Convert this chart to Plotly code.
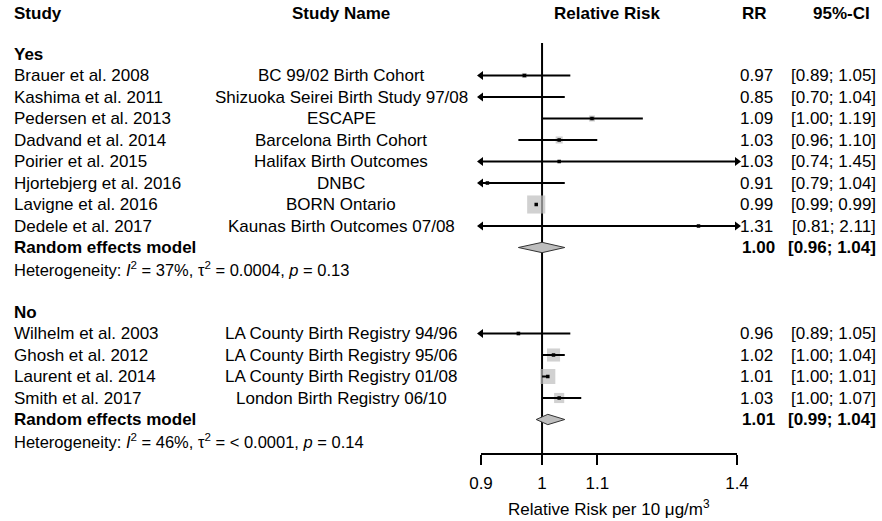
import math
import plotly.graph_objects as go

# ---------------- data ----------------
groups = ["Yes", "No"]
study = ["Brauer et al. 2008", "Kashima et al. 2011", "Pedersen et al. 2013", "Dadvand et al. 2014",
         "Poirier et al. 2015", "Hjortebjerg et al. 2016", "Lavigne et al. 2016", "Dedele et al. 2017",
         "Wilhelm et al. 2003", "Ghosh et al. 2012", "Laurent et al. 2014", "Smith et al. 2017"]
study_name = ["BC 99/02 Birth Cohort", "Shizuoka Seirei Birth Study 97/08", "ESCAPE", "Barcelona Birth Cohort",
              "Halifax Birth Outcomes", "DNBC", "BORN Ontario", "Kaunas Birth Outcomes 07/08",
              "LA County Birth Registry 94/96", "LA County Birth Registry 95/06",
              "LA County Birth Registry 01/08", "London Birth Registry 06/10"]
study_group = ["Yes"] * 8 + ["No"] * 4
rr = [0.97, 0.85, 1.09, 1.03, 1.03, 0.91, 0.99, 1.31, 0.96, 1.02, 1.01, 1.03]
ci_lo = [0.89, 0.70, 1.00, 0.96, 0.74, 0.79, 0.99, 0.81, 0.89, 1.00, 1.00, 1.00]
ci_hi = [1.05, 1.04, 1.19, 1.10, 1.45, 1.04, 0.99, 2.11, 1.05, 1.04, 1.01, 1.07]
weight = [3.5, 0.6, 5.0, 6.8, 1.2, 1.2, 45.0, 0.6, 2.2, 23.5, 31.0, 14.0]

re_rr = [1.00, 1.01]
re_lo = [0.96, 0.99]
re_hi = [1.04, 1.04]
het_i2 = ["37%", "46%"]
het_tau2 = ["0.0004", "< 0.0001"]
het_p = ["0.13", "0.14"]

tick_vals = [0.9, 1, 1.1, 1.4]
tick_text = ["0.9", "1", "1.1", "1.4"]
x_title = "Relative Risk per 10 μg/m<sup>3</sup>"

# ---------------- layout constants ----------------
W, H = 882, 521
FONT = "Liberation Sans, Arial, sans-serif"
FS = 17
FS_HET = 16.5
XMIN, XMAX = 0.9, 1.4
X_L, X_R = 481, 737          # pixel extent of the forest axis
ROW_PX = 21.5
ROW3_PX = 75.5
AXIS_PX = 453
TXT_OFF = 0.0


def row_of_px(p):
    return 3 + (p - ROW3_PX) / ROW_PX


def px(x):
    return x / W


# assign rows
rows_study = []
rows_group = {}
rows_re = {}
rows_het = {}
r = 2
for g in groups:
    rows_group[g] = r
    r += 1
    for i, sg in enumerate(study_group):
        if sg == g:
            rows_study.append(r)
            r += 1
    rows_re[g] = r
    rows_het[g] = r + 1
    r += 3

fig = go.Figure()

# reference line at RR = 1
fig.add_trace(go.Scatter(x=[1, 1], y=[row_of_px(43), row_of_px(AXIS_PX)], mode="lines",
                         line=dict(color="black", width=2), hoverinfo="skip", showlegend=False))

# squares (weights)
sq_x, sq_y, sq_s = [], [], []
for i in range(len(study)):
    if XMIN <= rr[i] <= XMAX:
        sq_x.append(rr[i]); sq_y.append(rows_study[i]); sq_s.append(2.7 * math.sqrt(weight[i]))
fig.add_trace(go.Scatter(x=sq_x, y=sq_y, mode="markers",
                         marker=dict(symbol="square", size=sq_s, color="#BEBEBE", line=dict(width=0)),
                         hoverinfo="skip", showlegend=False, cliponaxis=False))

# CI lines
lx, ly = [], []
al_x, al_y, ar_x, ar_y = [], [], [], []
for i in range(len(study)):
    a = max(ci_lo[i], XMIN)
    b = min(ci_hi[i], XMAX)
    lx += [a, b, None]; ly += [rows_study[i]] * 2 + [None]
    if ci_lo[i] < XMIN:
        al_x.append(XMIN); al_y.append(rows_study[i])
    if ci_hi[i] > XMAX:
        ar_x.append(XMAX); ar_y.append(rows_study[i])
fig.add_trace(go.Scatter(x=lx, y=ly, mode="lines", line=dict(color="black", width=2),
                         hoverinfo="skip", showlegend=False, cliponaxis=False))
fig.add_trace(go.Scatter(x=al_x, y=al_y, mode="markers",
                         marker=dict(symbol="triangle-left", size=8, color="black"),
                         hoverinfo="skip", showlegend=False, cliponaxis=False))
fig.add_trace(go.Scatter(x=ar_x, y=ar_y, mode="markers",
                         marker=dict(symbol="triangle-right", size=8, color="black"),
                         hoverinfo="skip", showlegend=False, cliponaxis=False))

# point estimates
px_, py_ = [], []
for i in range(len(study)):
    if XMIN <= rr[i] <= XMAX:
        px_.append(rr[i]); py_.append(rows_study[i])
fig.add_trace(go.Scatter(x=px_, y=py_, mode="markers",
                         marker=dict(symbol="square", size=3.5, color="black"),
                         hoverinfo="skip", showlegend=False, cliponaxis=False))

# diamonds
DH = 0.24
for k, g in enumerate(groups):
    y0 = rows_re[g]
    fig.add_trace(go.Scatter(x=[re_lo[k], re_rr[k], re_hi[k], re_rr[k], re_lo[k]],
                             y=[y0, y0 - DH, y0, y0 + DH, y0], mode="lines", fill="toself",
                             fillcolor="#BEBEBE", line=dict(color="#333333", width=1),
                             hoverinfo="skip", showlegend=False))

# ---------------- text ----------------
ann = []


def txt(x, y, s, anchor="left", bold=False, size=FS):
    if bold:
        s = "<b>" + s + "</b>"
    ann.append(dict(x=px(x), xref="paper", y=y + TXT_OFF, yref="y", text=s, showarrow=False,
                    xanchor=anchor, yanchor="middle", borderpad=0,
                    font=dict(family=FONT, size=size, color="black")))


hdr = row_of_px(13.5)
txt(13, hdr, "Study", bold=True)
txt(341, hdr, "Study Name", anchor="center", bold=True)
txt(607, hdr, "Relative Risk", anchor="center", bold=True)
txt(768, hdr, "RR", anchor="right", bold=True)
txt(871, hdr, "95%-CI", anchor="right", bold=True)

for k, g in enumerate(groups):
    txt(13, rows_group[g], g, bold=True)
    txt(13, rows_re[g], "Random effects model", bold=True)
    txt(776, rows_re[g], "%.2f" % re_rr[k], anchor="right", bold=True)
    txt(877, rows_re[g], "[%.2f; %.2f]" % (re_lo[k], re_hi[k]), anchor="right", bold=True)
    het = ("Heterogeneity: <i>I</i><sup>2</sup> = %s, τ<sup>2</sup> = %s, <i>p</i> = %s"
           % (het_i2[k], het_tau2[k], het_p[k]))
    txt(13, rows_het[g], het, size=FS_HET)

for i in range(len(study)):
    y = rows_study[i]
    txt(13, y, study[i])
    txt(341, y, study_name[i], anchor="center")
    txt(774, y, "%.2f" % rr[i], anchor="right")
    txt(877, y, "[%.2f; %.2f]" % (ci_lo[i], ci_hi[i]), anchor="right")

ann.append(dict(x=px((X_L + X_R) / 2), xref="paper", y=(H - 508) / H, yref="paper", text=x_title,
                showarrow=False, xanchor="center", yanchor="middle", borderpad=0,
                font=dict(family=FONT, size=FS, color="black")))

fig.update_layout(
    template="none",
    width=W, height=H, margin=dict(l=0, r=0, t=0, b=0, pad=0, autoexpand=False),
    paper_bgcolor="white", plot_bgcolor="white",
    annotations=ann, showlegend=False,
    xaxis=dict(type="log", range=[math.log10(XMIN), math.log10(XMAX)], automargin=False,
               domain=[X_L / W, X_R / W], tickvals=tick_vals, ticktext=tick_text,
               showline=True, linecolor="black", linewidth=2, ticks="outside", ticklen=10,
               tickwidth=2, tickcolor="black", showgrid=False, zeroline=False,
               tickfont=dict(family=FONT, size=FS, color="black"), ticklabelstandoff=4),
    yaxis=dict(range=[row_of_px(AXIS_PX), row_of_px(0)], domain=[(H - AXIS_PX) / H, 1],
               visible=False, showgrid=False, zeroline=False, automargin=False),
)

fig.write_html("out.html")
